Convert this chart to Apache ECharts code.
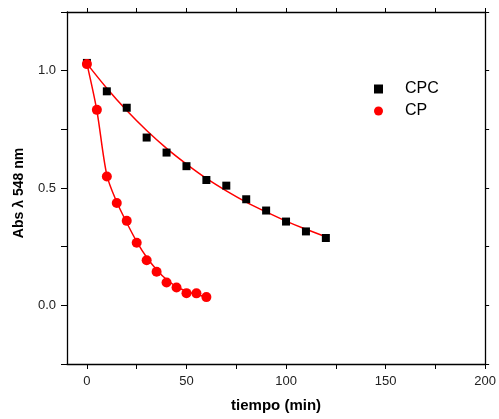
<!DOCTYPE html>
<html>
<head>
<meta charset="utf-8">
<script src="https://cdn.jsdelivr.net/npm/echarts@6/dist/echarts.min.js"></script>
<style>html,body{margin:0;padding:0;background:#fff}#c{width:499px;height:419px}</style>
</head>
<body>
<div id="c"></div>
<script>
// Measured data (CPC squares)
const cpcTime = [0, 10, 20, 30, 40, 50, 60, 70, 80, 90, 100, 110, 120];
const cpcAbs  = [1.033, 0.912, 0.842, 0.715, 0.651, 0.593, 0.534, 0.510, 0.452, 0.404, 0.357, 0.315, 0.287];
// Measured data (CP circles)
const cpTime = [0, 5, 10, 15, 20, 25, 30, 35, 40, 45, 50, 55, 60];
const cpAbs  = [1.028, 0.833, 0.549, 0.436, 0.360, 0.267, 0.192, 0.143, 0.097, 0.076, 0.052, 0.051, 0.035];
// Fit curves
const cpcFitTime = [0, 10, 20, 30, 40, 50, 60, 70, 80, 90, 100, 110, 120];
const cpcFitAbs  = [1.03, 0.925, 0.83, 0.745, 0.669, 0.602, 0.541, 0.488, 0.440, 0.398, 0.359, 0.324, 0.292];
const cpFitTime = [0, 5, 10, 15, 20, 25, 30, 35, 40, 45, 50, 55, 60];
const cpFitAbs  = [1.03, 0.83, 0.555, 0.44, 0.352, 0.272, 0.205, 0.152, 0.110, 0.080, 0.060, 0.046, 0.035];
// Tick values
const xTicks = [0, 25, 50, 75, 100, 125, 150, 175, 200];
const xLabels = [0, 50, 100, 150, 200];
const yLabels = [0, 0.5, 1.0];

const zip = (a, b) => a.map((v, i) => [v, b[i]]);
const FONT = 'Liberation Sans, Arial, sans-serif';
const axisLine = {show: true, onZero: false, lineStyle: {color: '#000', width: 1.3}};

const chart = echarts.init(document.getElementById('c'), null, {renderer: 'canvas'});
chart.setOption({
  animation: false,
  backgroundColor: '#fff',
  grid: {left: 67, right: 10, top: 12, bottom: 55},
  legend: {
    orient: 'vertical', left: 369, top: 76, itemGap: 6,
    itemWidth: 9, itemHeight: 9,
    textStyle: {fontFamily: FONT, fontSize: 16, color: '#000', padding: [0, 0, 0, 17]},
    data: [{name: 'CPC', icon: 'rect'}, {name: 'CP', icon: 'circle'}]
  },
  xAxis: [{
    type: 'value', min: -10, max: 200, position: 'bottom',
    name: 'tiempo (min)', nameLocation: 'middle', nameGap: 34,
    nameTextStyle: {fontFamily: FONT, fontSize: 15, fontWeight: 'bold', color: '#000'},
    axisLine: axisLine,
    axisTick: {show: true, length: 5, customValues: xTicks, lineStyle: {color: '#000'}},
    axisLabel: {customValues: xLabels, fontFamily: FONT, fontSize: 13, color: '#222', margin: 11},
    splitLine: {show: false}
  }, {
    type: 'value', min: -10, max: 200, position: 'top',
    axisLine: axisLine,
    axisTick: {show: true, length: 4, customValues: xTicks, lineStyle: {color: '#000'}},
    axisLabel: {show: false}, splitLine: {show: false}
  }],
  yAxis: [{
    type: 'value', min: -0.25, max: 1.25, interval: 0.25, position: 'left',
    name: 'Abs \u03bb 548 nm', nameLocation: 'middle', nameGap: 41,
    nameTextStyle: {fontFamily: FONT, fontSize: 14, fontWeight: 'bold', color: '#000', padding: [0, 10, 0, 0]},
    axisLine: axisLine,
    axisTick: {show: true, length: 6, lineStyle: {color: '#000'}},
    axisLabel: {customValues: yLabels, fontFamily: FONT, fontSize: 13, color: '#222', margin: 11,
      formatter: v => v.toFixed(1)},
    splitLine: {show: false}
  }, {
    type: 'value', min: -0.25, max: 1.25, interval: 0.25, position: 'right',
    axisLine: axisLine,
    axisTick: {show: true, length: 4, lineStyle: {color: '#000'}},
    axisLabel: {show: false}, splitLine: {show: false}
  }],
  series: [
    {name: 'CPC fit', type: 'line', data: zip(cpcFitTime, cpcFitAbs), smooth: 0.3, showSymbol: false,
      lineStyle: {color: '#ff0000', width: 1.5}, z: 2, silent: true},
    {name: 'CP fit', type: 'line', data: zip(cpFitTime, cpFitAbs), smooth: 0.3, showSymbol: false,
      lineStyle: {color: '#ff0000', width: 1.5}, z: 2, silent: true},
    {name: 'CPC', type: 'scatter', data: zip(cpcTime, cpcAbs), symbol: 'rect', symbolSize: 8,
      itemStyle: {color: '#000', opacity: 1}, z: 3},
    {name: 'CP', type: 'scatter', data: zip(cpTime, cpAbs), symbol: 'circle', symbolSize: 10,
      itemStyle: {color: '#ff0000', opacity: 1}, z: 4}
  ]
});
</script>
</body>
</html>
